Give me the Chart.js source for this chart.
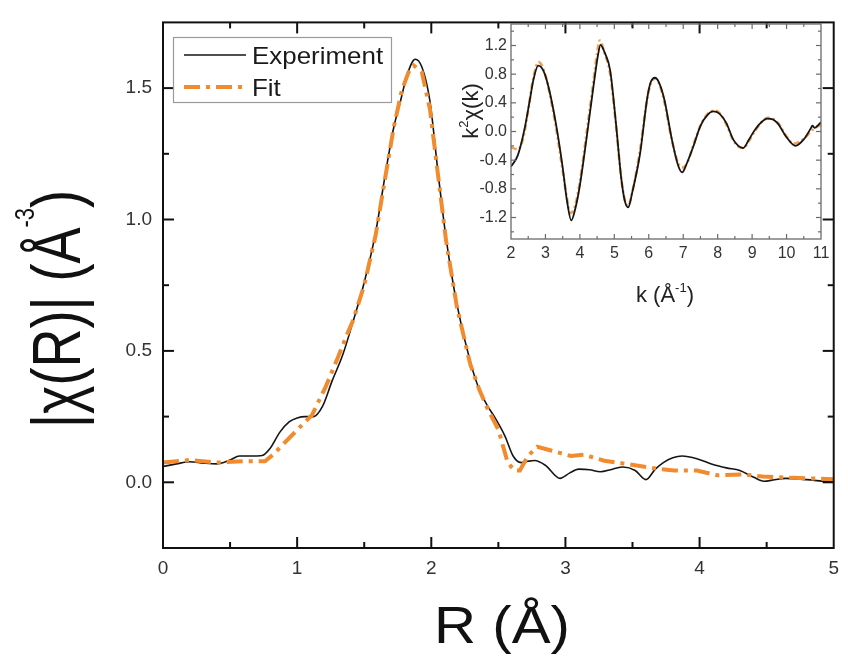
<!DOCTYPE html>
<html>
<head>
<meta charset="utf-8">
<script src="https://cdn.jsdelivr.net/npm/chart.js@4.4.1/dist/chart.umd.min.js"></script>
<style>
  html, body { margin: 0; padding: 0; background: #fff; }
  #wrap { position: relative; width: 848px; height: 656px; }
  #main { position: absolute; left: 0; top: 0; }
  #inset { position: absolute; left: 440px; top: 0; }
</style>
</head>
<body>
<div id="wrap">
  <canvas id="main" width="848" height="656"></canvas>
  <canvas id="inset" width="400" height="320"></canvas>
</div>
<script>
// main panel: |chi(R)| vs R
const rExp = [0, 0.1, 0.2, 0.3, 0.4, 0.5, 0.57, 0.65, 0.74, 0.8, 0.87, 0.94, 1.0, 1.06, 1.12, 1.19, 1.26, 1.34, 1.41, 1.5, 1.585, 1.66, 1.72, 1.77, 1.82, 1.88, 1.93, 1.99, 2.05, 2.11, 2.19, 2.29, 2.36, 2.42, 2.47, 2.55, 2.61, 2.67, 2.72, 2.77, 2.85, 2.96, 3.03, 3.1, 3.18, 3.26, 3.35, 3.43, 3.52, 3.6, 3.67, 3.73, 3.8, 3.87, 3.98, 4.1, 4.2, 4.3, 4.4, 4.48, 4.56, 4.64, 4.8, 5.0];
const chiExp = [0.06, 0.07, 0.078, 0.073, 0.07, 0.085, 0.1, 0.1, 0.102, 0.13, 0.19, 0.23, 0.245, 0.25, 0.25, 0.29, 0.385, 0.485, 0.6, 0.76, 0.95, 1.18, 1.35, 1.45, 1.55, 1.61, 1.58, 1.45, 1.18, 0.93, 0.68, 0.46, 0.35, 0.29, 0.25, 0.175, 0.1, 0.075, 0.08, 0.083, 0.065, 0.015, 0.035, 0.05, 0.048, 0.04, 0.05, 0.058, 0.045, 0.01, 0.05, 0.075, 0.093, 0.1, 0.09, 0.068, 0.055, 0.045, 0.02, 0.004, 0.01, 0.015, 0.01, 0.0];
const rFit = [0, 0.2, 0.4, 0.6, 0.76, 0.82, 1.04, 1.11, 1.21, 1.3, 1.37, 1.42, 1.5, 1.585, 1.66, 1.72, 1.78, 1.83, 1.87, 1.93, 1.99, 2.05, 2.11, 2.19, 2.29, 2.36, 2.42, 2.5, 2.57, 2.62, 2.66, 2.72, 2.79, 2.9, 3.04, 3.14, 3.29, 3.48, 3.68, 3.81, 3.98, 4.13, 4.32, 4.47, 4.7, 5.0];
const chiFit = [0.075, 0.085, 0.075, 0.08, 0.08, 0.105, 0.22, 0.255, 0.36, 0.47, 0.56, 0.62, 0.75, 0.94, 1.17, 1.35, 1.49, 1.56, 1.586, 1.56, 1.42, 1.17, 0.92, 0.67, 0.45, 0.35, 0.28, 0.2, 0.075, 0.045, 0.045, 0.1, 0.135, 0.12, 0.1, 0.105, 0.082, 0.068, 0.052, 0.045, 0.045, 0.027, 0.03, 0.022, 0.017, 0.012];
const rTicks = [0, 1, 2, 3, 4, 5];
const chiTicks = [0, 0.5, 1.0, 1.5];

// inset: k^2 chi(k) vs k
const kExp = [2.0, 2.2, 2.4, 2.55, 2.65, 2.79, 2.95, 3.1, 3.3, 3.5, 3.62, 3.75, 3.88, 4.0, 4.2, 4.4, 4.52, 4.6, 4.72, 4.88, 5.05, 5.2, 5.3, 5.4, 5.52, 5.75, 5.95, 6.05, 6.18, 6.3, 6.45, 6.67, 6.85, 6.97, 7.1, 7.3, 7.5, 7.7, 7.87, 8.05, 8.25, 8.45, 8.6, 8.74, 8.9, 9.05, 9.25, 9.44, 9.6, 9.75, 10.0, 10.26, 10.5, 10.7, 10.75, 10.82, 10.9, 11.0];
const k2Exp = [-0.49, -0.33, 0.05, 0.45, 0.72, 0.92, 0.84, 0.6, 0.12, -0.5, -0.95, -1.24, -1.05, -0.75, -0.07, 0.65, 1.05, 1.21, 1.1, 0.85, 0.1, -0.65, -0.96, -1.06, -0.85, -0.3, 0.45, 0.68, 0.75, 0.68, 0.45, -0.11, -0.47, -0.57, -0.45, -0.2, 0.08, 0.23, 0.28, 0.25, 0.12, -0.11, -0.2, -0.23, -0.12, 0.0, 0.12, 0.18, 0.17, 0.11, -0.08, -0.2, -0.11, 0.04, 0.08, 0.05, 0.08, 0.13];
const kFit = [2.0, 2.2, 2.35, 2.5, 2.65, 2.8, 2.95, 3.1, 3.3, 3.5, 3.65, 3.72, 3.85, 4.0, 4.2, 4.4, 4.5, 4.58, 4.7, 4.88, 5.05, 5.2, 5.3, 5.4, 5.52, 5.75, 5.95, 6.05, 6.2, 6.3, 6.45, 6.67, 6.85, 7.0, 7.15, 7.3, 7.5, 7.7, 7.9, 8.05, 8.25, 8.45, 8.6, 8.75, 8.9, 9.05, 9.25, 9.45, 9.6, 9.75, 10.0, 10.2, 10.5, 10.75, 11.0];
const k2Fit = [-0.22, -0.25, -0.1, 0.3, 0.75, 0.97, 0.86, 0.58, 0.08, -0.55, -1.0, -1.14, -1.05, -0.7, 0.0, 0.72, 1.1, 1.27, 1.12, 0.8, 0.08, -0.65, -0.95, -1.04, -0.85, -0.25, 0.45, 0.66, 0.74, 0.67, 0.42, -0.12, -0.44, -0.5, -0.4, -0.18, 0.08, 0.24, 0.29, 0.26, 0.1, -0.12, -0.21, -0.23, -0.14, -0.02, 0.12, 0.19, 0.18, 0.12, -0.07, -0.17, -0.1, 0.02, 0.1];
const kTicks = [2, 3, 4, 5, 6, 7, 8, 9, 10, 11];
const k2Ticks = [-1.2, -0.8, -0.4, 0, 0.4, 0.8, 1.2];

const FONT = '"Liberation Sans", Arial, Helvetica, sans-serif';
const ORANGE = '#f28a2e';

const pts = (xs, ys) => xs.map((x, i) => ({ x: x, y: ys[i] }));

// text with superscripts, centred on (x, y) baseline
function drawRich(ctx, parts, x, y, o) {
  ctx.save();
  ctx.translate(x, y);
  if (o.rotate) ctx.rotate(o.rotate);
  ctx.scale(o.sx || 1, o.sy || 1);
  ctx.fillStyle = o.color || '#111';
  ctx.textBaseline = 'alphabetic';
  ctx.textAlign = 'left';
  const w = parts.map(p => { ctx.font = p.size + 'px ' + FONT; return ctx.measureText(p.text).width; });
  const total = w.reduce((a, b) => a + b, 0);
  let cx = o.align === 'left' ? 0 : -total / 2;
  parts.forEach((p, i) => {
    ctx.font = p.size + 'px ' + FONT;
    ctx.fillText(p.text, cx, -(p.rise || 0));
    cx += w[i];
  });
  ctx.restore();
}

// box around plot + inward ticks on all four sides
function makeFrame(c) {
  return {
    id: 'frame',
    afterDatasetsDraw(chart) {
      const ctx = chart.ctx, a = chart.chartArea;
      const xs = chart.scales.x, ys = chart.scales.y;
      ctx.save();
      ctx.strokeStyle = c.color;
      ctx.lineWidth = c.tickWidth;
      const line = (x1, y1, x2, y2) => { ctx.beginPath(); ctx.moveTo(x1, y1); ctx.lineTo(x2, y2); ctx.stroke(); };
      const each = (sc, minor, major, fn) => {
        for (let i = Math.ceil(sc.min / minor - 1e-6); i * minor <= sc.max + 1e-9; i++) {
          const v = i * minor;
          if (Math.abs(v - sc.min) < 1e-6 || Math.abs(v - sc.max) < 1e-6) continue;
          const isMaj = Math.abs(v / major - Math.round(v / major)) < 1e-6;
          fn(sc.getPixelForValue(v), isMaj ? c.majLen : c.minLen);
        }
      };
      each(xs, c.xMinor, c.xMajor, (p, l) => { line(p, a.bottom, p, a.bottom - l); line(p, a.top, p, a.top + l); });
      each(ys, c.yMinor, c.yMajor, (p, l) => { line(a.left, p, a.left + l, p); line(a.right, p, a.right - l, p); });
      ctx.lineWidth = c.width;
      ctx.strokeRect(a.left, a.top, a.right - a.left, a.bottom - a.top);
      ctx.restore();
    }
  };
}

function makeTitles(items) {
  return {
    id: 'titles',
    afterDraw(chart) { items.forEach(it => drawRich(chart.ctx, it.parts, it.x, it.y, it)); }
  };
}

const legendBox = {
  id: 'legendBox',
  afterDraw(chart) {
    const ctx = chart.ctx;
    ctx.save();
    ctx.strokeStyle = '#9a9a9a';
    ctx.lineWidth = 1.2;
    ctx.strokeRect(173.5, 37.5, 218, 65);
    chart.data.datasets.forEach((ds, i) => {
      const y = 55 + i * 32;
      ctx.strokeStyle = ds.borderColor;
      ctx.lineWidth = ds.borderWidth;
      ctx.setLineDash(ds.borderDash || []);
      ctx.beginPath(); ctx.moveTo(184, y); ctx.lineTo(246, y); ctx.stroke();
      ctx.setLineDash([]);
      drawRich(ctx, [{ text: ds.label, size: 24 }], 252, y + 8.5, { align: 'left', sx: 1.08, color: '#1a1a1a' });
    });
    ctx.restore();
  }
};

const noGrid = { display: false, drawTicks: false, tickLength: 0 };

new Chart(document.getElementById('main'), {
  type: 'line',
  data: {
    datasets: [
      { label: 'Experiment', data: pts(rExp, chiExp), borderColor: '#151515', borderWidth: 1.6,
        pointRadius: 0, cubicInterpolationMode: 'monotone', order: 1 },
      { label: 'Fit', data: pts(rFit, chiFit), borderColor: ORANGE, borderWidth: 4,
        borderDash: [16, 6, 4, 6], pointRadius: 0, tension: 0, order: 0 }
    ]
  },
  options: {
    responsive: false,
    animation: false,
    layout: { padding: { left: 0, right: 10, top: 13, bottom: 0 } },
    plugins: { legend: { display: false }, tooltip: { enabled: false } },
    scales: {
      x: {
        type: 'linear', min: 0, max: 5,
        afterBuildTicks: s => { s.ticks = rTicks.map(v => ({ value: v })); },
        afterFit: s => { s.height = 108; },
        grid: noGrid, border: { display: false },
        ticks: { font: { family: FONT, size: 19 }, color: '#333', padding: 9, maxRotation: 0,
                 callback: v => String(v) }
      },
      y: {
        type: 'linear', min: -0.25, max: 1.75,
        afterBuildTicks: s => { s.ticks = chiTicks.map(v => ({ value: v })); },
        afterFit: s => { s.width = 163; },
        grid: noGrid, border: { display: false },
        ticks: { font: { family: FONT, size: 19 }, color: '#333', padding: 11,
                 callback: v => v.toFixed(1) }
      }
    }
  },
  plugins: [
    makeFrame({ color: '#111', width: 2, tickWidth: 2, majLen: 11, minLen: 6,
                xMinor: 0.5, xMajor: 1, yMinor: 0.25, yMajor: 0.5 }),
    makeTitles([
      { parts: [{ text: '|\u03c7(R)| (\u00c5', size: 54 }, { text: '-3', size: 22, rise: 36 }, { text: ')', size: 54 }],
        x: 80, y: 309, rotate: -Math.PI / 2, sy: 1.28 },
      { parts: [{ text: 'R (\u00c5)', size: 52 }], x: 502, y: 643, sx: 1.12 }
    ]),
    legendBox
  ]
});

new Chart(document.getElementById('inset'), {
  type: 'line',
  data: {
    datasets: [
      { label: 'Experiment', data: pts(kExp, k2Exp), borderColor: '#151515', borderWidth: 1.8,
        pointRadius: 0, cubicInterpolationMode: 'monotone', order: 0 },
      { label: 'Fit', data: pts(kFit, k2Fit), borderColor: '#f4a052', borderWidth: 2.6,
        borderDash: [6, 3, 2, 3], pointRadius: 0, cubicInterpolationMode: 'monotone', order: 1 }
    ]
  },
  options: {
    responsive: false,
    animation: false,
    layout: { padding: { left: 0, right: 19, top: 24, bottom: 0 } },
    plugins: { legend: { display: false }, tooltip: { enabled: false } },
    scales: {
      x: {
        type: 'linear', min: 2, max: 11,
        afterBuildTicks: s => { s.ticks = kTicks.map(v => ({ value: v })); },
        afterFit: s => { s.height = 81; },
        grid: noGrid, border: { display: false },
        ticks: { font: { family: FONT, size: 16 }, color: '#333', padding: 5, maxRotation: 0,
                 callback: v => String(v) }
      },
      y: {
        type: 'linear', min: -1.5, max: 1.5,
        afterBuildTicks: s => { s.ticks = k2Ticks.map(v => ({ value: v })); },
        afterFit: s => { s.width = 71; },
        grid: noGrid, border: { display: false },
        ticks: { font: { family: FONT, size: 16 }, color: '#333', padding: 4,
                 callback: v => v.toFixed(1) }
      }
    }
  },
  plugins: [
    makeFrame({ color: '#6a6a6a', width: 1.3, tickWidth: 1.2, majLen: 5, minLen: 3,
                xMinor: 0.5, xMajor: 1, yMinor: 0.2, yMajor: 0.4 }),
    makeTitles([
      { parts: [{ text: 'k', size: 22 }, { text: '2', size: 13, rise: 10 }, { text: '\u03c7(k)', size: 22 }],
        x: 38, y: 111, rotate: -Math.PI / 2, color: '#222' },
      { parts: [{ text: 'k (\u00c5', size: 22 }, { text: '-1', size: 13, rise: 10 }, { text: ')', size: 22 }],
        x: 225, y: 302, color: '#222' }
    ])
  ]
});
</script>
</body>
</html>
